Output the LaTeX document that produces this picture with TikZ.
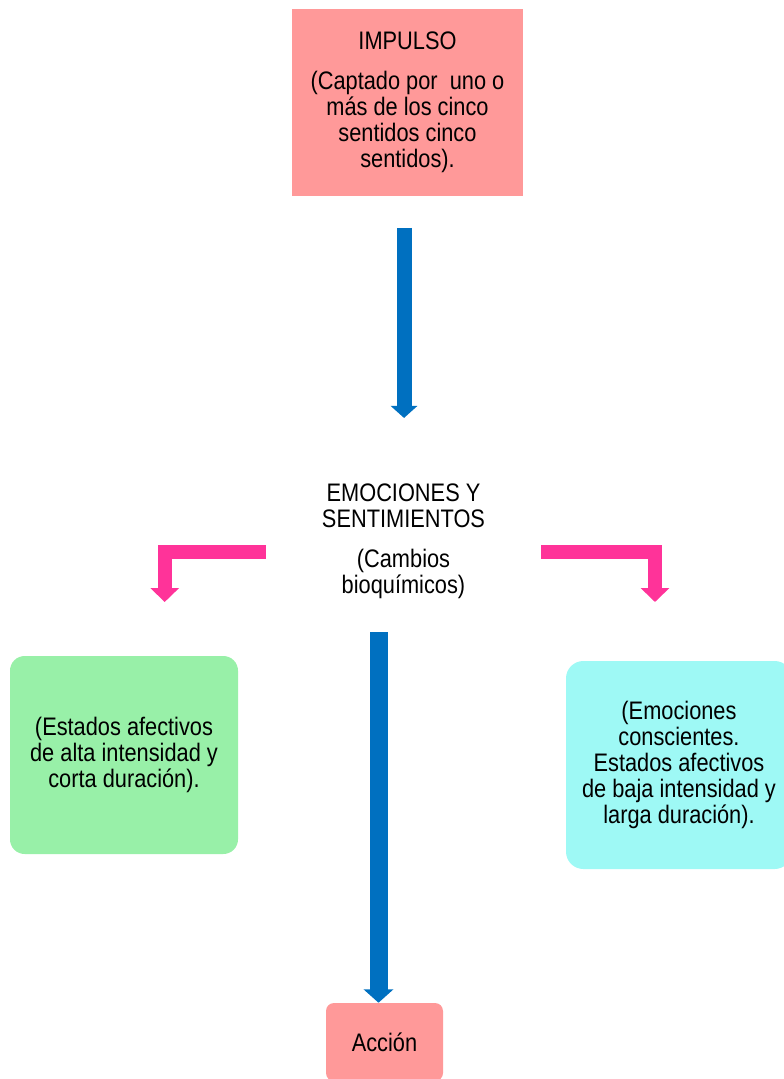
\documentclass[tikz,border=0pt]{standalone}
\usepackage{fontspec}
\setmainfont{Liberation Sans}[FakeStretch=0.86]
\usepackage{xcolor}
\usetikzlibrary{positioning,arrows.meta,calc}
\definecolor{salmon}{HTML}{FF9999}
\definecolor{mint}{HTML}{98F0A8}
\definecolor{aqua}{HTML}{9EF9F5}
\definecolor{fuchsia}{HTML}{FF3399}
\definecolor{azure}{HTML}{0070C0}
\begin{document}
\begin{tikzpicture}[x=0.75pt,y=-0.75pt,font=\fontsize{19}{19.4}\selectfont,
  bx/.style={align=center,inner sep=2pt},
  redbox/.style={bx,fill=salmon},
  bluear/.style={azure,line width=11.25pt,-{Triangle[length=9pt,width=19.5pt]}},
  pinkar/.style={fuchsia,line width=10.5pt,line join=miter,-{Triangle[length=10.5pt,width=21pt]}}]
\useasboundingbox (0,0) rectangle (784,1079);
% top impulse
\node[redbox,minimum width=173.25pt,minimum height=140.25pt] (imp) at (407.5,102)
  {IMPULSO\\[11pt](Captado por~ uno o\\más de los cinco\\sentidos cinco\\sentidos).};
% centre text
\node[bx,minimum width=206.25pt,minimum height=87.75pt] (emo) at (403.5,541.5)
  {EMOCIONES Y\\SENTIMIENTOS\\[11pt](Cambios\\bioquímicos)};
\draw[bluear,shorten <=24pt,shorten >=47.25pt] ([xshift=-2.6pt]imp.south) -- ([xshift=-2.6pt]imp.south |- emo.north);
% side boxes
\node[bx,fill=mint,rounded corners=11pt,minimum width=171pt,minimum height=148.5pt] (emoc) at (124,755)
  {(Estados afectivos\\de alta intensidad y\\corta duración).};
\node[bx,fill=aqua,rounded corners=13pt,minimum width=169.5pt,minimum height=156pt] (sent) at (679,765)
  {(Emociones\\conscientes.\\Estados afectivos\\de baja intensidad y\\larga duración).};
\coordinate (lt) at (164.7,602);
\coordinate (rt) at (655,602);
\draw[pinkar] ($(emo.west)+(0,10.5)$) -| (lt);
\draw[pinkar] ($(emo.east)+(0,10.5)$) -| (rt);
% action
\node[redbox,rounded corners=6pt,minimum width=87.75pt,minimum height=58.5pt] (acc) at (384.5,1042) {Acción};
\draw[bluear,line width=13.5pt,-{Triangle[length=10pt,width=21.75pt]},shorten <=22.5pt] ([xshift=-4.5pt]acc.north |- emo.south) -- ([xshift=-4.5pt]acc.north);
\end{tikzpicture}
\end{document}
